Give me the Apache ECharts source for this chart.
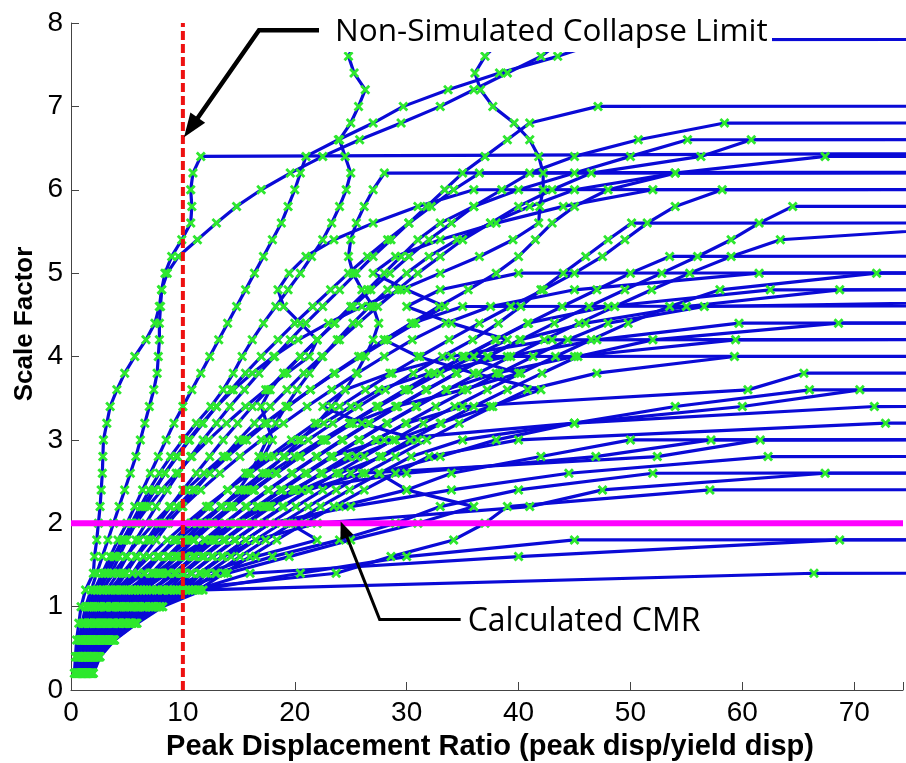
<!DOCTYPE html>
<html>
<head>
<meta charset="utf-8">
<title>IDA curves</title>
<script src="https://cdn.jsdelivr.net/npm/echarts@6/dist/echarts.min.js"></script>
<style>
  html, body { margin: 0; padding: 0; background: #ffffff; }
  #chart { width: 906px; height: 763px; }
</style>
</head>
<body>
<div id="chart"></div>
<script>
// Scale factor levels of the incremental dynamic analysis (one per run)
const scaleFactors = [0.2, 0.4, 0.6, 0.8, 1.0, 1.2, 1.4, 1.6, 1.8, 2.0,
  2.2, 2.4, 2.6, 2.8, 3.0, 3.2, 3.4, 3.6, 3.8, 4.0,
  4.2, 4.4, 4.6, 4.8, 5.0, 5.2, 5.4, 5.6, 5.8, 6.0,
  6.2, 6.4, 6.6, 6.8, 7.0, 7.2, 7.4, 7.6, 7.8, 8.0,
  8.2, 8.4];

// Peak displacement ratio of each ground-motion record at successive scale factors
// (last entry of each record is the non-converged / collapse run)
const record01 = [0.3, 0.4, 0.5, 0.7, 0.9, 1.3, 2.0, 2.1, 2.3, 2.45, 2.6, 2.7, 2.8, 2.85, 2.9, 3.2, 3.5, 4.1, 4.8, 5.7, 6.7, 7.5, 7.9, 8.1, 8.4, 9.0, 9.9, 10.7, 10.8, 10.7, 10.9, 11.6, 400];
const record02 = [0.4, 0.5, 0.7, 1.0, 1.3, 1.8, 2.3, 2.8, 3.3, 3.8, 4.3, 4.8, 5.3, 5.8, 6.2, 6.6, 7.0, 7.4, 7.7, 7.8, 7.9, 7.9, 8.0, 8.1, 8.6, 9.6, 11.3, 13.0, 14.8, 17.0, 19.6, 22.5, 25.8, 29.5, 33.0, 36.0, 39.0, 42.0, 44.0, 46.0, 48.0, 300];
const record03 = [0.55, 0.7, 1.0, 1.5, 2.0, 2.9, 3.6, 4.3, 5.0, 5.8, 6.6, 7.5, 8.4, 9.4, 10.5, 11.7, 13.0, 14.5, 16.2, 18.1, 20.3, 23.0, 26.0, 29.5, 33.0, 36.5, 39.5, 41.8, 41.9, 42.2, 42.2, 41.8, 41.0, 39.6, 37.7, 36.6, 36.1, 37.0, 38.5, 40.5, 42.0, 300];
const record04 = [0.5, 0.7, 0.9, 1.3, 1.8, 2.6, 3.3, 4.0, 4.7, 5.4, 6.2, 7.0, 7.9, 8.9, 10.0, 11.2, 12.5, 13.6, 14.5, 15.3, 16.2, 17.2, 18.3, 19.4, 20.5, 21.5, 22.5, 23.3, 24.0, 24.6, 25.0, 24.5, 24.0, 25.0, 25.7, 26.3, 25.3, 24.8, 25.5, 26.5, 27.5, 300];
const record05 = [0.4, 0.6, 0.8, 1.1, 1.5, 2.1, 2.8, 3.5, 4.2, 5.0, 5.7, 6.4, 7.1, 7.8, 8.5, 9.2, 10.0, 10.8, 11.6, 12.4, 13.2, 14.0, 14.8, 15.6, 16.4, 17.2, 18.0, 18.8, 19.4, 20.0, 20.5, 21.0, 23.9, 27.0, 29.7, 33.7, 38.3, 43.5, 48.0, 2000];
const record06 = [0.6, 0.8, 1.1, 1.6, 2.2, 3.2, 4.2, 5.0, 5.8, 6.7, 7.6, 8.6, 9.6, 10.7, 11.8, 13.0, 14.2, 15.5, 16.8, 18.2, 19.6, 21.0, 22.5, 24.0, 25.5, 27.0, 28.6, 30.2, 31.8, 33.4, 35.0, 37.0, 39.0, 41.0, 47.1, 1500];
const record07 = [0.7, 0.95, 1.35, 2.0, 2.7, 3.9, 4.9, 5.8, 6.8, 7.8, 8.9, 10.0, 11.2, 12.4, 13.6, 14.9, 16.2, 17.6, 19.0, 20.5, 22.0, 23.6, 25.2, 26.8, 28.5, 30.2, 32.0, 34.0, 36.0, 38.5, 41.0, 45.0, 50.7, 58.4, 1500];
const record08 = [0.85, 1.1, 1.6, 2.4, 3.2, 4.7, 5.5, 6.5, 7.6, 8.7, 9.9, 11.1, 12.4, 13.7, 15.0, 16.4, 17.8, 19.3, 20.8, 22.4, 24.0, 25.7, 27.4, 29.2, 31.0, 33.0, 35.0, 37.5, 40.0, 43.0, 46.5, 56.3, 60.8, 1500];
const record09 = [1.0, 1.3, 1.85, 2.8, 3.8, 5.5, 6.6, 7.9, 9.3, 10.8, 12.4, 14.0, 15.6, 17.2, 18.0, 17.5, 17.0, 17.8, 19.0, 20.5, 22.0, 23.5, 25.0, 26.5, 28.0, 29.5, 31.0, 33.0, 36.0, 40.0, 45.0, 50.0, 55.1, 1500];
const record10 = [1.1, 1.45, 2.1, 3.1, 4.3, 6.2, 7.3, 8.7, 10.2, 11.8, 13.5, 15.0, 16.0, 16.8, 17.5, 18.3, 19.2, 20.2, 21.3, 22.5, 23.8, 25.2, 26.7, 28.3, 30.0, 32.0, 34.5, 37.5, 41.0, 45.0, 54.0, 67.4, 1500];
const record11 = [0.65, 0.85, 1.2, 1.7, 2.4, 3.4, 4.9, 5.9, 7.0, 8.2, 9.5, 10.9, 12.4, 14.0, 15.7, 17.5, 19.4, 21.4, 23.5, 25.7, 28.0, 30.4, 32.9, 35.5, 38.0, 40.0, 41.5, 43.0, 45.0, 48.0, 54.0, 1500];
const record12 = [1.2, 1.55, 2.3, 3.4, 4.7, 6.8, 8.0, 9.5, 11.0, 12.6, 14.2, 15.8, 17.4, 19.0, 20.5, 22.0, 23.3, 24.5, 25.5, 26.3, 27.0, 27.5, 27.0, 26.0, 25.2, 24.8, 25.0, 25.5, 26.2, 27.0, 28.0, 800];
const record13 = [0.8, 1.05, 1.5, 2.3, 3.1, 4.5, 6.5, 7.8, 9.2, 10.7, 12.3, 14.0, 15.8, 17.7, 19.7, 21.8, 24.0, 26.3, 28.7, 31.2, 33.8, 36.5, 39.3, 42.2, 45.0, 47.5, 49.5, 51.5, 54.0, 58.2, 1500];
const record14 = [1.3, 1.7, 2.5, 3.8, 5.3, 7.6, 8.7, 10.3, 12.0, 13.8, 15.7, 17.7, 19.8, 22.0, 24.3, 26.7, 29.2, 31.8, 34.5, 37.3, 40.2, 43.2, 46.3, 49.5, 52.8, 56.0, 59.0, 61.5, 64.5, 1500];
const record15 = [0.9, 1.2, 1.7, 2.5, 3.5, 5.0, 7.2, 8.6, 10.1, 11.7, 13.4, 15.2, 17.1, 19.1, 21.2, 23.4, 25.7, 28.1, 30.6, 33.2, 35.9, 38.2, 40.2, 42.0, 44.0, 46.0, 48.0, 50.1, 1500];
const record16 = [1.4, 1.85, 2.8, 4.2, 5.8, 8.3, 9.4, 11.1, 12.9, 14.8, 16.8, 18.9, 21.1, 23.4, 25.8, 28.3, 30.9, 33.6, 36.4, 39.3, 42.3, 45.4, 48.6, 51.9, 55.3, 59.0, 63.4, 86.0, 1500];
const record17 = [1.05, 1.4, 2.0, 3.0, 4.2, 6.0, 7.9, 9.4, 11.0, 12.7, 14.5, 16.4, 18.4, 20.5, 22.7, 25.0, 27.4, 29.9, 32.5, 35.2, 38.0, 40.9, 43.9, 47.0, 50.0, 53.5, 1500];
const record18 = [1.6, 2.1, 3.1, 4.7, 6.5, 9.4, 10.8, 12.7, 14.7, 16.8, 19.0, 21.3, 23.7, 26.2, 28.8, 31.5, 34.3, 37.2, 40.2, 43.3, 46.5, 49.8, 53.5, 58.0, 72.0, 1500];
const record19 = [0.7, 0.9, 1.25, 1.8, 2.5, 3.6, 4.6, 5.8, 7.1, 8.5, 10.0, 11.6, 13.3, 15.1, 17.0, 19.0, 21.1, 23.3, 25.6, 28.0, 30.5, 33.5, 37.5, 45.0, 61.5, 1500];
const record20 = [1.15, 1.5, 2.2, 3.3, 4.5, 6.5, 8.6, 10.2, 11.9, 13.7, 15.6, 17.6, 19.7, 21.9, 24.2, 26.6, 29.1, 31.7, 34.4, 37.2, 40.1, 46.0, 55.0, 68.7, 1500];
const record21 = [0.9, 1.2, 1.75, 2.6, 3.6, 5.2, 7.8, 9.3, 10.9, 12.6, 14.4, 16.3, 18.3, 20.4, 22.6, 24.9, 27.3, 29.8, 32.4, 35.1, 37.9, 40.8, 48.0, 62.5, 1500];
const record22 = [1.5, 1.9, 2.9, 4.3, 6.0, 8.7, 10.1, 11.9, 13.8, 15.8, 17.9, 20.1, 22.4, 24.8, 27.3, 29.9, 32.6, 35.4, 38.3, 41.3, 44.4, 48.0, 56.6, 150];
const record23 = [1.65, 2.15, 3.2, 4.9, 6.7, 9.7, 11.5, 13.5, 15.6, 17.8, 20.1, 22.5, 25.0, 27.6, 30.3, 33.1, 36.0, 39.0, 42.1, 45.3, 52.0, 68.6, 1500];
const record24 = [0.75, 1.0, 1.4, 2.1, 2.9, 4.1, 5.5, 7.0, 8.6, 10.3, 12.1, 14.0, 16.0, 18.1, 20.3, 22.6, 25.0, 27.5, 32.0, 39.0, 47.0, 59.7, 1500];
const record25 = [1.25, 1.65, 2.4, 3.7, 5.1, 7.3, 9.3, 11.0, 12.8, 14.7, 16.7, 18.8, 21.0, 23.3, 25.7, 28.2, 30.8, 33.5, 38.0, 45.0, 59.4, 1500];
const record26 = [1.8, 2.35, 3.5, 5.3, 7.3, 10.5, 12.2, 14.3, 16.5, 18.8, 21.2, 23.7, 26.3, 29.0, 31.8, 34.7, 37.7, 40.8, 47.0, 59.3, 1500];
const record27 = [1.0, 1.3, 1.9, 2.9, 4.0, 5.7, 7.2, 8.8, 10.5, 12.3, 14.2, 16.2, 18.3, 20.5, 22.8, 25.2, 29.0, 35.0, 40.0, 35.0, 1500];
const record28 = [1.4, 1.8, 2.7, 4.1, 5.6, 8.1, 10.0, 11.8, 13.7, 15.7, 17.8, 20.0, 22.3, 24.7, 27.2, 30.0, 35.0, 60.5, 65.5, 1500];
const record29 = [1.85, 2.4, 3.6, 5.4, 7.5, 10.8, 12.9, 15.1, 17.4, 19.8, 22.3, 24.9, 27.6, 30.4, 35.0, 45.0, 60.0, 70.5, 1500];
const record30 = [1.25, 1.6, 2.4, 3.6, 4.9, 7.1, 9.2, 10.9, 12.7, 14.6, 16.6, 18.7, 20.9, 23.2, 28.0, 45.0, 71.8, 1500];
const record31 = [1.95, 2.5, 3.8, 5.7, 7.9, 11.4, 13.7, 16.0, 18.4, 20.9, 23.5, 26.2, 29.0, 32.0, 40.0, 72.8, 1500];
const record32 = [1.5, 2.0, 3.0, 4.4, 6.2, 8.9, 10.7, 12.6, 14.6, 16.7, 18.9, 21.2, 26.0, 52.4, 61.6, 1500];
const record33 = [1.35, 1.75, 2.6, 3.9, 5.4, 7.8, 9.9, 11.7, 13.6, 15.6, 17.7, 19.9, 30.0, 46.9, 57.2, 1500];
const record34 = [1.7, 2.2, 3.3, 5.0, 7.0, 10.0, 11.5, 13.5, 15.6, 17.8, 25.0, 34.0, 44.5, 62.3, 1500];
const record35 = [1.75, 2.3, 3.4, 5.2, 7.2, 10.3, 11.6, 13.6, 16.5, 22.0, 41.0, 47.5, 67.4, 1500];
const record36 = [1.55, 2.05, 3.05, 4.6, 6.4, 9.2, 23.7, 28.6, 34.2, 37.0, 39.0, 57.1, 1500];
const record37 = [1.9, 2.45, 3.7, 5.5, 7.7, 11.1, 16.0, 40.0, 68.7, 1500];
const record38 = [2.0, 2.6, 3.9, 5.9, 8.2, 11.8, 66.4, 1500];
const record39 = [1.45, 1.9, 2.85, 4.3, 6.0, 8.6, 12.0, 16.5, 22.0, 19.5, 24.0, 30.0, 27.5, 33.0, 38.0, 45.0, 54.0, 66.0, 1500];
const record40 = [0.95, 1.25, 1.8, 2.7, 3.7, 5.4, 7.5, 9.6, 12.0, 14.6, 17.5, 20.6, 24.0, 27.8, 31.0, 26.0, 22.5, 24.5, 28.5, 34.0, 43.0, 1500];
const record41 = [1.15, 1.5, 2.2, 3.2, 4.4, 6.3, 8.2, 10.3, 12.5, 14.8, 17.2, 19.8, 22.5, 25.5, 29.0, 33.0, 37.5, 42.0, 36.0, 31.0, 28.0, 30.5, 35.0, 1500];
const record42 = [0.8, 1.05, 1.5, 2.2, 3.0, 4.3, 6.0, 7.7, 9.5, 11.4, 13.4, 15.5, 17.7, 20.0, 22.4, 24.9, 27.5, 30.2, 33.0, 36.0, 39.0, 34.0, 30.0, 33.0, 40.0, 1500];
const record43 = [1.6, 2.1, 3.15, 4.75, 6.6, 9.5, 14.0, 19.5, 25.0, 31.0, 36.0, 30.0, 34.0, 42.0, 50.0, 1500];
const record44 = [1.8, 2.3, 3.45, 5.2, 7.3, 10.6, 13.0, 18.0, 24.0, 29.0, 33.0, 40.0, 52.0, 1500];
const record45 = [1.95, 2.55, 3.85, 5.8, 8.0, 11.5, 20.5, 30.0, 45.0, 1500];
const record46 = [0.45, 0.6, 0.85, 1.2, 1.6, 2.3, 3.0, 3.8, 4.6, 5.5, 6.4, 7.4, 8.4, 9.5, 10.6, 11.8, 13.0, 14.3, 15.6, 17.0, 18.5, 20.0, 21.6, 23.2, 24.8, 26.5, 28.3, 30.2, 32.2, 34.2, 36.5, 1500];
const record47 = [0.5, 0.65, 0.9, 1.3, 1.7, 2.4, 3.1, 3.9, 4.8, 5.8, 6.9, 8.1, 9.4, 10.8, 12.3, 13.9, 15.6, 17.4, 19.3, 21.3, 22.0, 20.5, 19.0, 18.5, 19.5, 21.0, 23.5, 27.0, 31.0, 36.0, 1500];
const record48 = [0.6, 0.75, 1.05, 1.5, 2.0, 2.8, 3.8, 4.9, 6.1, 7.4, 8.8, 10.3, 11.9, 13.6, 15.4, 17.3, 19.3, 21.4, 23.6, 25.9, 28.3, 30.8, 33.4, 30.0, 27.0, 29.0, 33.0, 38.0, 44.0, 52.0, 1500];

const records = [record01, record02, record03, record04, record05, record06, record07, record08,
  record09, record10, record11, record12, record13, record14, record15, record16, record17,
  record18, record19, record20, record21, record22, record23, record24, record25, record26,
  record27, record28, record29, record30, record31, record32, record33, record34, record35,
  record36, record37, record38, record39, record40, record41, record42, record43, record44,
  record45, record46, record47, record48];

// Reference levels
const collapseLimit = 10;     // non-simulated collapse limit (displacement ratio)
const calculatedCMR = 2.0;    // collapse margin ratio (scale factor)

// Axis ticks
const xTicks = [0, 10, 20, 30, 40, 50, 60, 70];
const yTicks = [0, 1, 2, 3, 4, 5, 6, 7, 8];
const xMax = 74.36;

const chart = echarts.init(document.getElementById('chart'), null, { renderer: 'canvas' });

const crossMark = 'path://M2,0 L5,3 L8,0 L10,2 L7,5 L10,8 L8,10 L5,7 L2,10 L0,8 L3,5 L0,2 Z';

const curveSeries = records.map((xs, k) => ({
  type: 'line',
  name: 'GM' + (k + 1),
  data: xs.map((x, i) => [x, scaleFactors[i]]),
  symbol: crossMark,
  symbolSize: 10,
  showAllSymbol: true,
  clip: true,
  lineStyle: { color: '#0a0ad6', width: 3.2 },
  itemStyle: { color: '#2ee82e' },
  emphasis: { disabled: true },
  z: 2
}));

const option = {
  animation: false,
  backgroundColor: '#ffffff',
  grid: { left: 71, right: 0, top: 23, bottom: 73, containLabel: false },
  xAxis: {
    type: 'value',
    min: xTicks[0],
    max: xMax,
    interval: xTicks[1] - xTicks[0],
    axisLine: { lineStyle: { color: '#444', width: 1 } },
    axisTick: { inside: true, length: 8, lineStyle: { color: '#444' } },
    axisLabel: {
      fontFamily: 'Liberation Sans', fontSize: 28, color: '#000', margin: 9,
      formatter: v => (xTicks.indexOf(v) >= 0 ? String(v) : '')
    },
    splitLine: { show: false }
  },
  yAxis: {
    type: 'value',
    min: yTicks[0],
    max: yTicks[yTicks.length - 1],
    interval: 1,
    axisLine: { show: true, lineStyle: { color: '#444', width: 1 } },
    axisTick: { show: true, inside: true, length: 8, lineStyle: { color: '#444' } },
    axisLabel: { fontFamily: 'Liberation Sans', fontSize: 28, color: '#000', margin: 8 },
    splitLine: { show: false }
  },
  series: curveSeries.concat([
    {
      type: 'line',
      name: 'CMR',
      data: [[xTicks[0], calculatedCMR], [xMax, calculatedCMR]],
      symbol: 'none',
      lineStyle: { color: '#ff00ff', width: 6 },
      z: 5
    },
    {
      type: 'line',
      name: 'Collapse limit',
      data: [[collapseLimit, yTicks[0]], [collapseLimit, yTicks[yTicks.length - 1]]],
      symbol: 'none',
      lineStyle: { color: '#ee1111', width: 4, type: [9, 4] },
      z: 6
    }
  ])
};

chart.setOption(option);

// Annotations: arrows point at the collapse-limit line and the CMR line
const tip1 = chart.convertToPixel({ gridIndex: 0 }, [collapseLimit + 0.1, 6.63]);
const tip2 = chart.convertToPixel({ gridIndex: 0 }, [24.1, calculatedCMR + 0.02]);

function arrowHead(tip, from, len, half) {
  const dx = tip[0] - from[0], dy = tip[1] - from[1];
  const d = Math.sqrt(dx * dx + dy * dy);
  const ux = dx / d, uy = dy / d;
  const bx = tip[0] - ux * len, by = tip[1] - uy * len;
  return [[tip[0], tip[1]], [bx - uy * half, by + ux * half], [bx + uy * half, by - ux * half]];
}

const elbow1 = [tip1[0] + 75, tip1[1] - 107];
const tail1 = [elbow1[0] + 60, elbow1[1]];
const elbow2 = [tip2[0] + 39, tip2[1] + 98];
const tail2 = [elbow2[0] + 81, elbow2[1]];

chart.setOption({
  graphic: [
    {
      type: 'rect', silent: true, z: 50,
      shape: { x: tail1[0] + 10, y: 0, width: 443, height: 52 },
      style: { fill: '#ffffff' }
    },
    {
      type: 'text', silent: true, z: 51,
      x: tail1[0] + 16, y: elbow1[1] + 2,
      style: { text: 'Non-Simulated Collapse Limit', fill: '#000', fontFamily: 'Open Sans', fontSize: 31.5, verticalAlign: 'middle', align: 'left' }
    },
    {
      type: 'polyline', silent: true, z: 52,
      shape: { points: [tail1, elbow1, [tip1[0] + 10, tip1[1] - 14]] },
      style: { stroke: '#000', lineWidth: 4.5, fill: null }
    },
    {
      type: 'polygon', silent: true, z: 52,
      shape: { points: arrowHead(tip1, elbow1, 24, 9) },
      style: { fill: '#000' }
    },
    {
      type: 'text', silent: true, z: 51,
      x: tail2[0] + 7, y: elbow2[1] + 2,
      style: { text: 'Calculated CMR', fill: '#000', fontFamily: 'Open Sans', fontSize: 32, verticalAlign: 'middle', align: 'left' }
    },
    {
      type: 'polyline', silent: true, z: 52,
      shape: { points: [tail2, elbow2, [tip2[0] + 5, tip2[1] + 12]] },
      style: { stroke: '#000', lineWidth: 3, fill: null }
    },
    {
      type: 'polygon', silent: true, z: 52,
      shape: { points: arrowHead(tip2, elbow2, 17, 7) },
      style: { fill: '#000' }
    },
    {
      type: 'text', silent: true, z: 51,
      x: 490, y: 747,
      style: { text: 'Peak Displacement Ratio (peak disp/yield disp)', fill: '#000', fontFamily: 'Liberation Sans', fontWeight: 'bold', fontSize: 29, align: 'center', verticalAlign: 'middle' }
    },
    {
      type: 'text', silent: true, z: 51,
      x: 25, y: 324, rotation: Math.PI / 2,
      style: { text: 'Scale Factor', fill: '#000', fontFamily: 'Liberation Sans', fontWeight: 'bold', fontSize: 26, align: 'center', verticalAlign: 'middle' }
    }
  ]
});
</script>
</body>
</html>
